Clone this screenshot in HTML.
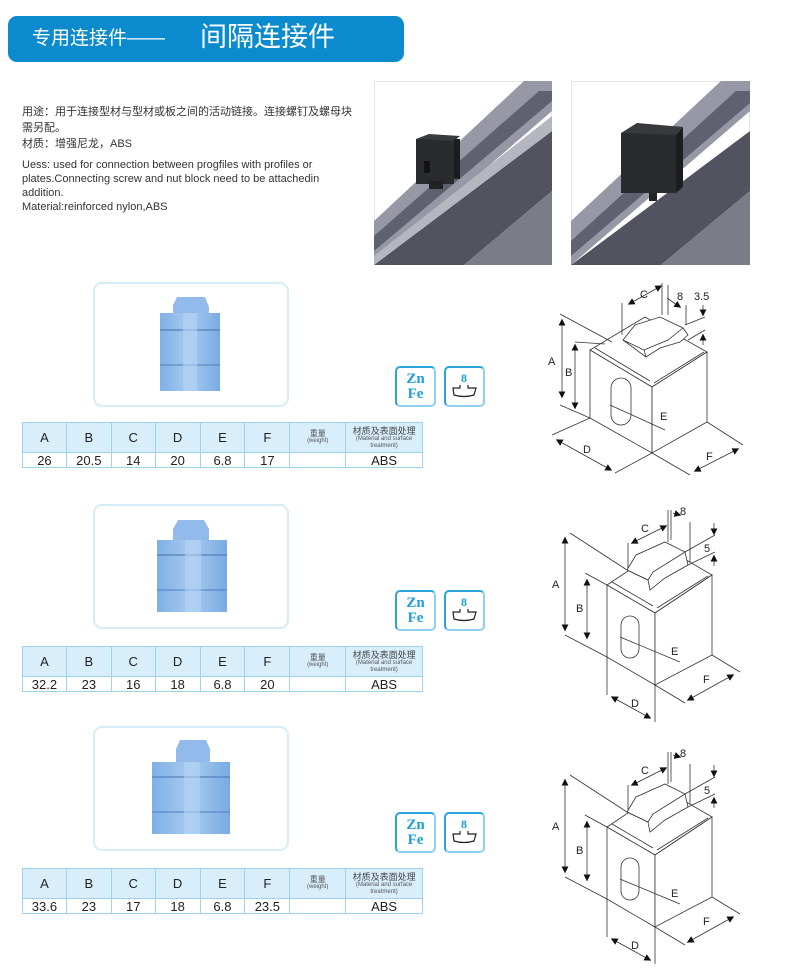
<!DOCTYPE html>
<html><head><meta charset="utf-8">
<style>
*{margin:0;padding:0;box-sizing:border-box}
body{width:800px;height:972px;background:#fff;position:relative;overflow:hidden;font-family:"Liberation Sans","Noto Sans CJK SC",sans-serif;color:#333}
.abs{position:absolute}
.hdr{left:8px;top:16px;width:396px;height:46px;background:#0b8acd;border-radius:9px;color:#fff}
.txt{font-size:11px;color:#333}
.frame{left:93px;width:196px;height:125px;border:2px solid #d6edf9;border-radius:9px;background:#fff}
.icon{width:41px;height:41px;border:2px solid #29a4dc;border-radius:5px;background:#fff;border-right-color:#8fd0ee;border-bottom-color:#8fd0ee}
.zn{font-family:"Liberation Serif",serif;font-weight:bold;color:#1aa0dc;font-size:15px;line-height:15px;text-align:center;padding-top:4px}
table{position:absolute;left:22px;border-collapse:collapse;width:401px;font-size:12px;color:#222}
td{border:1px solid #9fd2ef;text-align:center;padding:0}
tr.h td{background:#d8eefb;height:30px;font-size:13px}
tr.d td{height:15px;font-size:13px;line-height:13px}
.sm{font-size:8px;line-height:8px;color:#555}
.sm2{font-size:6px;line-height:7px;color:#555}
</style></head><body>
<div class="abs hdr"><span class="abs" style="left:24px;top:11px;font-size:19px;line-height:24px">专用连接件——</span><span class="abs" style="left:192px;top:5px;font-size:27px;line-height:32px">间隔连接件</span></div>

<div class="abs txt" style="left:22px;top:104px;width:340px;line-height:16px">用途：用于连接型材与型材或板之间的活动链接。连接螺钉及螺母块<br>需另配。<br>材质：增强尼龙，ABS</div>
<div class="abs txt" style="left:22px;top:158px;width:300px;line-height:14px">Uess: used for connection between progfiles with profiles or plates.Connecting screw and nut block need to be attachedin addition.<br>Material:reinforced nylon,ABS</div>

<svg class="abs" style="left:374px;top:81px" width="178" height="184">
<rect width="178" height="184" fill="#fff" stroke="#ccc"/>
<polygon points="0,140 150,0 178,0 178,30 0,184" fill="#9698a6"/>
<polygon points="0,155 165,10 178,10 178,20 0,170" fill="#5f6170"/>
<polygon points="0,184 178,50 178,110 90,184" fill="#52535f"/>
<polygon points="90,184 178,110 178,184" fill="#7a7c88"/>
<polygon points="0,175 178,35 178,50 0,184" fill="#b5b7c0"/>
<rect x="42" y="58" width="38" height="45" fill="#2a2b2e"/>
<polygon points="42,58 55,53 86,55 80,60" fill="#3a3b3e"/>
<rect x="80" y="58" width="6" height="40" fill="#1c1d1f"/>
<rect x="50" y="80" width="6" height="12" fill="#111"/>
<rect x="55" y="100" width="14" height="8" fill="#222"/>
</svg>
<svg class="abs" style="left:571px;top:81px" width="179" height="184">
<rect width="179" height="184" fill="#fff" stroke="#ccc"/>
<polygon points="0,140 150,0 179,0 179,30 0,184" fill="#9698a6"/>
<polygon points="0,160 165,10 179,10 179,22 0,175" fill="#5f6170"/>
<polygon points="0,184 179,50 179,110 90,184" fill="#52535f"/>
<polygon points="90,184 179,110 179,184" fill="#7a7c88"/>
<rect x="50" y="52" width="55" height="60" fill="#2a2b2e"/>
<polygon points="50,52 66,42 112,46 105,54" fill="#38393c"/>
<polygon points="105,54 112,46 112,106 105,112" fill="#1c1d1f"/>
<rect x="78" y="112" width="8" height="8" fill="#222"/>
</svg>

<div class="abs frame" style="top:282px"></div>
<svg class="abs" style="left:155px;top:295px" width="70" height="100">
<defs><linearGradient id="bg" x1="0" x2="1"><stop offset="0" stop-color="#7fb0e6"/><stop offset=".5" stop-color="#a8cbf0"/><stop offset="1" stop-color="#78aae2"/></linearGradient></defs>
<polygon points="22,2 50,2 54,12 54,20 18,20 18,10" fill="#92bbec"/>
<rect x="5" y="18" width="60" height="78" fill="url(#bg)"/>
<line x1="5" y1="35" x2="65" y2="35" stroke="#4a70b0"/><line x1="5" y1="70" x2="65" y2="70" stroke="#4a7ec0"/>
<rect x="28" y="18" width="14" height="78" fill="#b4d3f4" opacity=".6"/>
</svg>
<div class="abs frame" style="top:504px"></div>
<svg class="abs" style="left:152px;top:515px" width="80" height="100">
<polygon points="26,5 52,5 57,14 57,25 21,25 21,14" fill="#92bbec"/>
<rect x="5" y="25" width="70" height="72" fill="url(#bg)"/>
<line x1="5" y1="40" x2="75" y2="40" stroke="#4a70b0"/><line x1="5" y1="75" x2="75" y2="75" stroke="#4a7ec0"/>
<rect x="33" y="25" width="16" height="72" fill="#b4d3f4" opacity=".6"/>
</svg>
<div class="abs frame" style="top:726px"></div>
<svg class="abs" style="left:148px;top:737px" width="86" height="100">
<polygon points="32,3 58,3 62,12 62,25 28,25 28,12" fill="#92bbec"/>
<rect x="4" y="25" width="78" height="72" fill="url(#bg)"/>
<line x1="4" y1="40" x2="82" y2="40" stroke="#4a70b0"/><line x1="4" y1="75" x2="82" y2="75" stroke="#4a7ec0"/>
<rect x="36" y="25" width="16" height="72" fill="#b4d3f4" opacity=".6"/>
</svg>

<div class="abs icon zn" style="left:395px;top:366px">Zn<br>Fe</div>
<div class="abs icon" style="left:444px;top:366px"><svg width="37" height="37"><text x="18" y="14" font-family="Liberation Serif" font-weight="bold" font-size="12" fill="#1aa0dc" text-anchor="middle">8</text><path d="M14,17 L14,20 L7,20 L8,27 Q18,30 28,27 L30,20 L22,20 L22,17" fill="none" stroke="#222" stroke-width="1.2"/></svg></div>
<div class="abs icon zn" style="left:395px;top:590px">Zn<br>Fe</div>
<div class="abs icon" style="left:444px;top:590px"><svg width="37" height="37"><text x="18" y="14" font-family="Liberation Serif" font-weight="bold" font-size="12" fill="#1aa0dc" text-anchor="middle">8</text><path d="M14,17 L14,20 L7,20 L8,27 Q18,30 28,27 L30,20 L22,20 L22,17" fill="none" stroke="#222" stroke-width="1.2"/></svg></div>
<div class="abs icon zn" style="left:395px;top:812px">Zn<br>Fe</div>
<div class="abs icon" style="left:444px;top:812px"><svg width="37" height="37"><text x="18" y="14" font-family="Liberation Serif" font-weight="bold" font-size="12" fill="#1aa0dc" text-anchor="middle">8</text><path d="M14,17 L14,20 L7,20 L8,27 Q18,30 28,27 L30,20 L22,20 L22,17" fill="none" stroke="#222" stroke-width="1.2"/></svg></div>

<table style="top:422px"><colgroup><col style="width:44px"><col style="width:45px"><col style="width:44px"><col style="width:45px"><col style="width:45px"><col style="width:45px"><col style="width:56px"><col style="width:77px"></colgroup>
<tr class="h"><td>A</td><td>B</td><td>C</td><td>D</td><td>E</td><td>F</td><td><div class="sm">重量</div><div class="sm2">(weight)</div></td><td><div style="font-size:9px;line-height:10px;color:#444">材质及表面处理</div><div class="sm2">(Material and surface treatment)</div></td></tr>
<tr class="d"><td>26</td><td>20.5</td><td>14</td><td>20</td><td>6.8</td><td>17</td><td></td><td>ABS</td></tr></table>
<table style="top:646px"><colgroup><col style="width:44px"><col style="width:45px"><col style="width:44px"><col style="width:45px"><col style="width:45px"><col style="width:45px"><col style="width:56px"><col style="width:77px"></colgroup>
<tr class="h"><td>A</td><td>B</td><td>C</td><td>D</td><td>E</td><td>F</td><td><div class="sm">重量</div><div class="sm2">(weight)</div></td><td><div style="font-size:9px;line-height:10px;color:#444">材质及表面处理</div><div class="sm2">(Material and surface treatment)</div></td></tr>
<tr class="d"><td>32.2</td><td>23</td><td>16</td><td>18</td><td>6.8</td><td>20</td><td></td><td>ABS</td></tr></table>
<table style="top:868px"><colgroup><col style="width:44px"><col style="width:45px"><col style="width:44px"><col style="width:45px"><col style="width:45px"><col style="width:45px"><col style="width:56px"><col style="width:77px"></colgroup>
<tr class="h"><td>A</td><td>B</td><td>C</td><td>D</td><td>E</td><td>F</td><td><div class="sm">重量</div><div class="sm2">(weight)</div></td><td><div style="font-size:9px;line-height:10px;color:#444">材质及表面处理</div><div class="sm2">(Material and surface treatment)</div></td></tr>
<tr class="d"><td>33.6</td><td>23</td><td>17</td><td>18</td><td>6.8</td><td>23.5</td><td></td><td>ABS</td></tr></table>

<svg class="abs" style="left:0;top:0" width="800" height="972" font-family="Liberation Sans" font-size="11" fill="none" stroke="#333" stroke-width="0.8">
<defs><marker id="t" viewBox="0 0 10 10" refX="8" refY="5" markerWidth="7" markerHeight="7" markerUnits="userSpaceOnUse" orient="auto-start-reverse"><path d="M0,0 L10,5 L0,10z" fill="#111" stroke="none"/></marker></defs>
<g transform="translate(540,280)">
<polygon points="50,70 112,107 167,72 105,37" fill="#fff"/>
<polygon points="50,70 112,107 112,173 50,138" fill="#fff"/>
<polygon points="112,107 167,72 167,142 112,173" fill="#fff"/>
<line x1="55" y1="68" x2="110" y2="101"/><line x1="114" y1="103" x2="164" y2="72"/>
<path d="M83,60 L95,45 L120,37 L143,48 L148,55 L140,62 L120,68 L106,77 Z" fill="#fff"/>
<path d="M83,60 L104,70 L106,77 M104,70 L128,60 L143,48"/>
<rect x="71" y="98" width="20" height="47" rx="10" fill="#fff"/>
<line x1="20" y1="34" x2="72" y2="62"/><line x1="20" y1="125" x2="50" y2="138"/>
<line x1="22" y1="40" x2="22" y2="117" marker-start="url(#t)" marker-end="url(#t)"/>
<line x1="35" y1="62" x2="65" y2="64"/><line x1="35" y1="65" x2="35" y2="128" marker-start="url(#t)" marker-end="url(#t)"/>
<line x1="12" y1="155" x2="50" y2="138"/><line x1="75" y1="193" x2="112" y2="173"/>
<line x1="17" y1="160" x2="71" y2="190" marker-start="url(#t)" marker-end="url(#t)"/>
<line x1="112" y1="173" x2="150" y2="195"/><line x1="167" y1="142" x2="203" y2="165"/>
<line x1="155" y1="191" x2="198" y2="169" marker-start="url(#t)" marker-end="url(#t)"/>
<line x1="70" y1="125" x2="125" y2="150"/>
<line x1="82" y1="55" x2="82" y2="23"/><line x1="122" y1="35" x2="122" y2="3"/>
<line x1="89" y1="24" x2="121" y2="6" marker-start="url(#t)" marker-end="url(#t)"/>
<line x1="128" y1="35" x2="128" y2="5"/><line x1="146" y1="45" x2="146" y2="25"/>
<line x1="127" y1="18" x2="140" y2="27" marker-end="url(#t)"/>
<line x1="145" y1="45" x2="165" y2="37"/><line x1="148" y1="60" x2="165" y2="50"/>
<line x1="163" y1="25" x2="163" y2="35" marker-end="url(#t)"/><line x1="163" y1="65" x2="163" y2="55" marker-end="url(#t)"/>
<g fill="#222" stroke="none" font-size="11"><text x="8" y="85">A</text><text x="25" y="96">B</text><text x="100" y="18">C</text><text x="137" y="20">8</text><text x="154" y="20">3.5</text><text x="43" y="173">D</text><text x="120" y="140">E</text><text x="166" y="180">F</text></g>
</g>
<g id="d2" transform="translate(540,500)">
<polygon points="67,85 115,113 172,75 124,47" fill="#fff"/>
<polygon points="67,85 115,113 115,185 67,157" fill="#fff"/>
<polygon points="115,113 172,75 172,155 115,185" fill="#fff"/>
<line x1="72" y1="82" x2="113" y2="106"/><line x1="117" y1="108" x2="168" y2="76"/>
<path d="M87,70 L96,55 L125,42 L145,52 L148,65 L125,78 L110,90 L108,80 Z" fill="#fff"/>
<path d="M87,70 L108,80 M108,80 L113,72 L145,52"/>
<rect x="81" y="116" width="18" height="42" rx="9" fill="#fff"/>
<line x1="30" y1="33" x2="87" y2="70"/><line x1="25" y1="135" x2="67" y2="157"/>
<line x1="25" y1="38" x2="25" y2="130" marker-start="url(#t)" marker-end="url(#t)"/>
<line x1="45" y1="73" x2="67" y2="85"/><line x1="47" y1="80" x2="47" y2="138" marker-start="url(#t)" marker-end="url(#t)"/>
<line x1="67" y1="157" x2="67" y2="195"/><line x1="115" y1="185" x2="115" y2="222"/>
<line x1="72" y1="197" x2="110" y2="218" marker-start="url(#t)" marker-end="url(#t)"/>
<line x1="115" y1="185" x2="145" y2="203"/><line x1="172" y1="155" x2="200" y2="172"/>
<line x1="148" y1="200" x2="193" y2="175" marker-start="url(#t)" marker-end="url(#t)"/>
<line x1="80" y1="137" x2="140" y2="162"/>
<line x1="88" y1="68" x2="88" y2="43"/><line x1="128" y1="42" x2="128" y2="10"/>
<line x1="92" y1="43" x2="126" y2="26" marker-start="url(#t)" marker-end="url(#t)"/>
<line x1="131" y1="40" x2="131" y2="10"/><line x1="150" y1="62" x2="150" y2="22"/>
<line x1="133" y1="13" x2="140" y2="15" marker-end="url(#t)"/>
<line x1="145" y1="52" x2="175" y2="35"/><line x1="148" y1="65" x2="175" y2="52"/>
<line x1="174" y1="23" x2="174" y2="34" marker-end="url(#t)"/><line x1="174" y1="66" x2="174" y2="56" marker-end="url(#t)"/>
<g fill="#222" stroke="none" font-size="11"><text x="12" y="88">A</text><text x="36" y="112">B</text><text x="101" y="32">C</text><text x="140" y="15">8</text><text x="164" y="52">5</text><text x="91" y="207">D</text><text x="131" y="155">E</text><text x="163" y="183">F</text></g>
</g>
<use href="#d2" transform="translate(0,242)"/>
</svg>
</body></html>
